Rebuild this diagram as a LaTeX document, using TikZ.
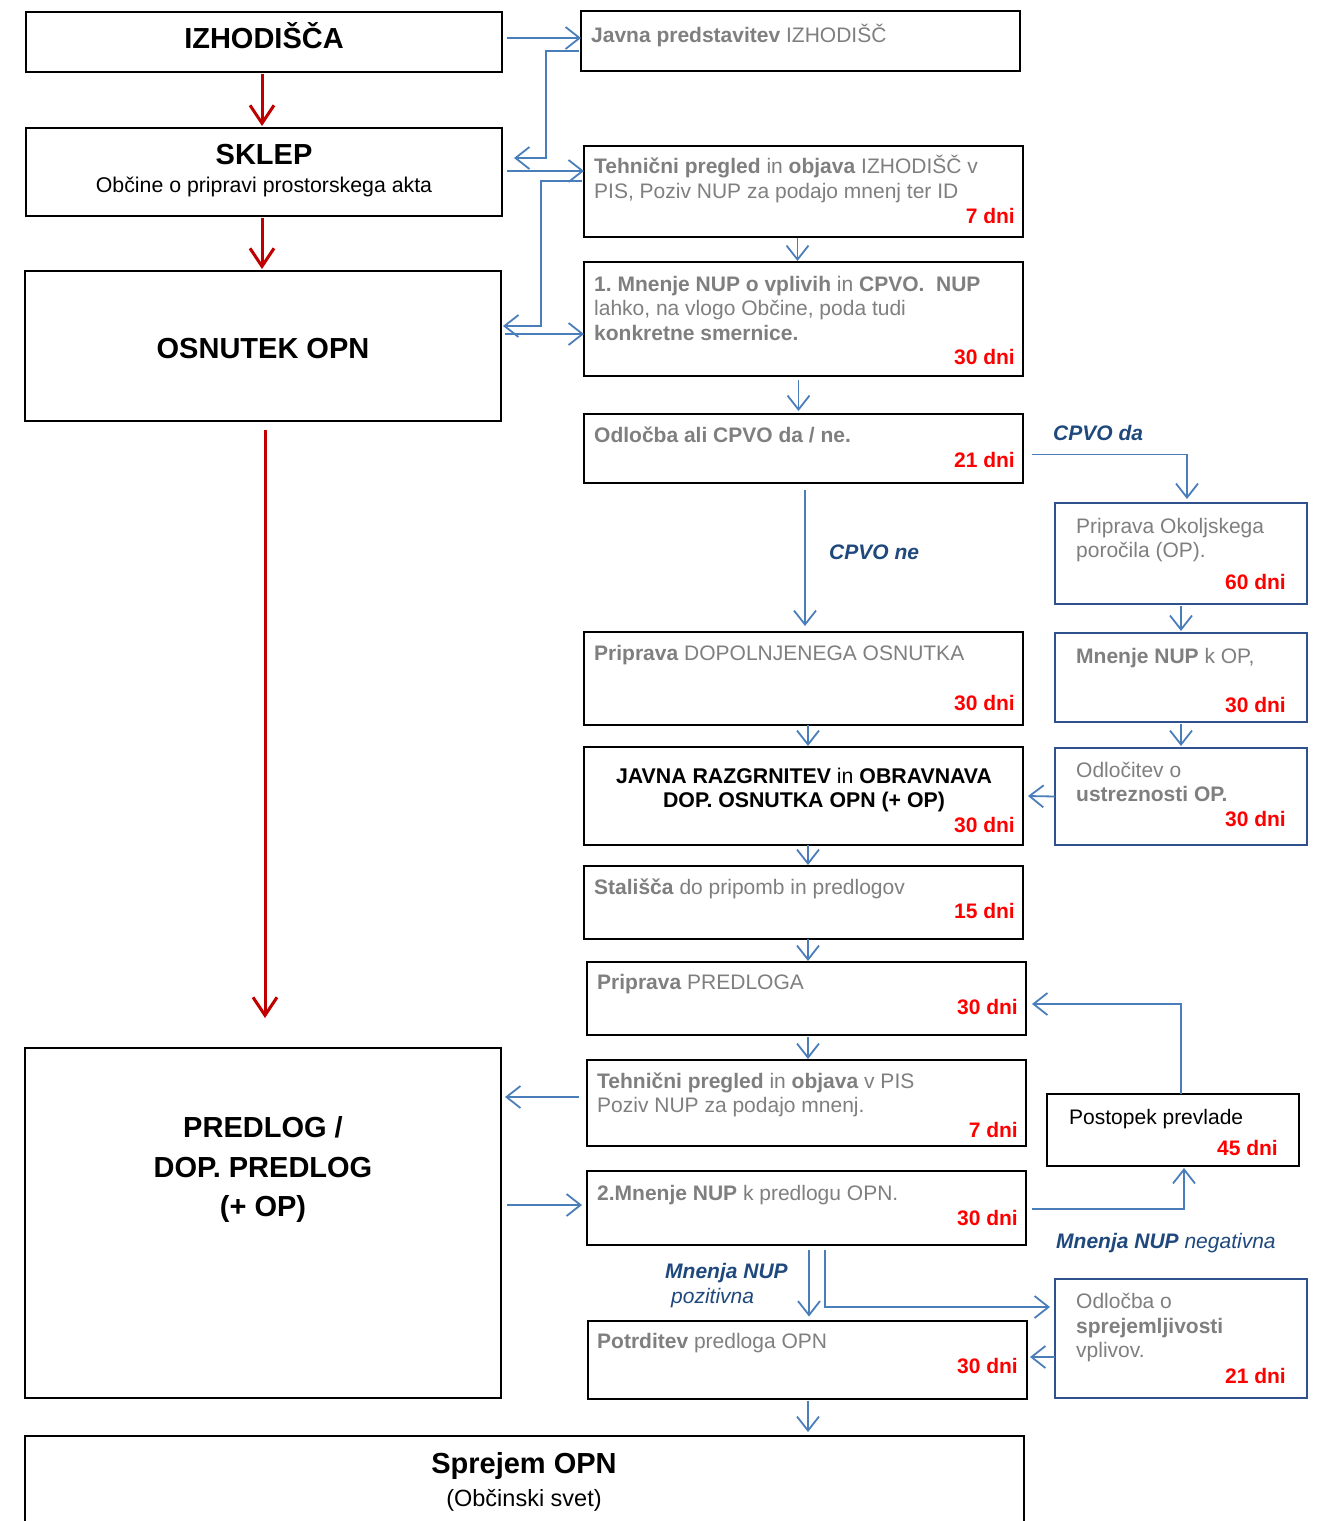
\documentclass[tikz,border=0pt]{standalone}
\usepackage{fontspec}
\setmainfont{Liberation Sans}
\frenchspacing
\usetikzlibrary{arrows.meta,calc}
\definecolor{gtxt}{RGB}{127,127,127}
\definecolor{arrblue}{RGB}{74,126,187}
\definecolor{boxblue}{RGB}{47,82,143}
\definecolor{lblblue}{RGB}{31,73,125}
\definecolor{arrred}{RGB}{192,0,0}
\definecolor{dnred}{RGB}{255,0,0}
\begin{document}
\begin{tikzpicture}[x=1pt,y=-1pt,
  box/.style={draw=black, line width=2pt, rectangle, inner sep=0pt, outer sep=0pt},
  bbox/.style={box, draw=boxblue},
  barrow/.style={draw=arrblue, line width=1.8pt, -{Straight Barb[length=14pt,width=22pt]}},
  rarrow/.style={draw=arrred, line width=3pt, -{Straight Barb[length=18pt,width=24pt]}},
  tx/.style={anchor=base west, inner sep=0pt, font=\fontsize{21}{25}\selectfont, text=gtxt},
  btx/.style={anchor=base west, inner sep=0pt, font=\fontsize{21}{25}\selectfont, text=black},
  dn/.style={anchor=base east, inner sep=0pt, font=\fontsize{21}{25}\selectfont\bfseries, text=dnred},
  ttl/.style={anchor=base, inner sep=0pt, font=\fontsize{29}{34}\selectfont\bfseries, text=black},
  sub/.style={anchor=base, inner sep=0pt, font=\fontsize{21}{25}\selectfont, text=black},
  lbl/.style={anchor=base west, inner sep=0pt, font=\fontsize{21}{25}\selectfont\bfseries\itshape, text=lblblue},
  lbln/.style={anchor=base west, inner sep=0pt, font=\fontsize{21}{25}\selectfont\itshape, text=lblblue}
]
\useasboundingbox (0,0) rectangle (1319,1521);
\fill[white] (0,0) rectangle (1319,1521);

% ---------- left column ----------
\node[box, minimum width=476pt, minimum height=60pt] (izh) at (264,42) {};
\node[box, minimum width=476pt, minimum height=88pt] (sklep) at (264,172) {};
\node[box, minimum width=476pt, minimum height=150pt] (osn) at (263,346) {};
\node[box, minimum width=476pt, minimum height=350pt] (pred) at (263,1223) {};
\node[box, minimum width=999pt, minimum height=92pt] (sprej) at (524.5,1482) {};

\node[ttl] (t-izh) at (264,48) {IZHODIŠČA};
\node[ttl] (t-sklep) at (264,164) {SKLEP};
\node[sub, font=\fontsize{21.3}{25}\selectfont] (t-sklep2) at (264,192) {Občine o pripravi prostorskega akta};
\node[ttl] (t-osn) at (263,358) {OSNUTEK OPN};
\node[ttl] (t-pred1) at (263,1137) {PREDLOG /};
\node[ttl] (t-pred2) at (263,1177) {DOP. PREDLOG};
\node[ttl] (t-pred3) at (263,1216) {(+ OP)};
\node[ttl] (t-sprej) at (524,1473) {Sprejem OPN};
\node[sub, font=\fontsize{23.5}{28}\selectfont] (t-sprej2) at (524,1506) {(Občinski svet)};

% ---------- middle column ----------
\node[box, minimum width=439pt, minimum height=60pt] (javna) at (800.5,41) {};
\node[box, minimum width=439pt, minimum height=91pt] (tech1) at (803.5,191.5) {};
\node[box, minimum width=439pt, minimum height=114pt] (mn1) at (803.5,319) {};
\node[box, minimum width=439pt, minimum height=69pt] (odl) at (803.5,448.5) {};
\node[box, minimum width=439pt, minimum height=93pt] (dop) at (803.5,678.5) {};
\node[box, minimum width=439pt, minimum height=98pt] (jr) at (803.5,796) {};
\node[box, minimum width=439pt, minimum height=73pt] (stal) at (803.5,902.5) {};
\node[box, minimum width=439pt, minimum height=73pt] (ppred) at (806.5,998.5) {};
\node[box, minimum width=439pt, minimum height=86pt] (tech2) at (806.5,1103) {};
\node[box, minimum width=439pt, minimum height=74pt] (mn2) at (806.5,1208) {};
\node[box, minimum width=439pt, minimum height=78pt] (potr) at (807,1359.5) {};

\node[tx] (t-javna) at (591,42) {\textbf{Javna predstavitev} IZHODIŠČ};
\node[tx] (t-tech1a) at (594,173) {\textbf{Tehnični pregled} in \textbf{objava} IZHODIŠČ v};
\node[tx] (t-tech1b) at (594,198) {PIS, Poziv NUP za podajo mnenj ter ID};
\node[dn] (d-tech1) at (1015,223) {7 dni};
\node[tx] (t-mn1a) at (594,291) {\textbf{1. Mnenje NUP o vplivih} in \textbf{CPVO.}\ \ \textbf{NUP}};
\node[tx] (t-mn1b) at (594,315) {lahko, na vlogo Občine, poda tudi};
\node[tx] (t-mn1c) at (594,340) {\textbf{konkretne smernice.}};
\node[dn] (d-mn1) at (1015,364) {30 dni};
\node[tx] (t-odl) at (594,442) {\textbf{Odločba ali CPVO da / ne.}};
\node[dn] (d-odl) at (1015,467) {21 dni};
\node[tx] (t-dop) at (594,660) {\textbf{Priprava} DOPOLNJENEGA OSNUTKA};
\node[dn] (d-dop) at (1015,710) {30 dni};
\node[ttl, font=\fontsize{21.3}{25}\selectfont] (t-jr1) at (804,783) {\textbf{JAVNA RAZGRNITEV} in \textbf{OBRAVNAVA}};
\node[ttl, font=\fontsize{21.3}{25}\selectfont\bfseries] (t-jr2) at (804,807) {DOP. OSNUTKA OPN (+ OP)};
\node[dn] (d-jr) at (1015,832) {30 dni};
\node[tx] (t-stal) at (594,894) {\textbf{Stališča} do pripomb in predlogov};
\node[dn] (d-stal) at (1015,918) {15 dni};
\node[tx] (t-ppred) at (597,989) {\textbf{Priprava} PREDLOGA};
\node[dn] (d-ppred) at (1018,1014) {30 dni};
\node[tx] (t-tech2a) at (597,1088) {\textbf{Tehnični pregled} in \textbf{objava} v PIS};
\node[tx] (t-tech2b) at (597,1112) {Poziv NUP za podajo mnenj.};
\node[dn] (d-tech2) at (1018,1137) {7 dni};
\node[tx] (t-mn2) at (597,1200) {\textbf{2.Mnenje NUP} k predlogu OPN.};
\node[dn] (d-mn2) at (1018,1225) {30 dni};
\node[tx] (t-potr) at (597,1348) {\textbf{Potrditev} predloga OPN};
\node[dn] (d-potr) at (1018,1373) {30 dni};

% ---------- right column ----------
\node[bbox, minimum width=252pt, minimum height=101pt] (okol) at (1181,553.5) {};
\node[bbox, minimum width=252pt, minimum height=89pt] (mnop) at (1181,677.5) {};
\node[bbox, minimum width=252pt, minimum height=97pt] (odlop) at (1181,796.5) {};
\node[box, minimum width=252pt, minimum height=72pt] (prev) at (1173,1130) {};
\node[bbox, minimum width=252pt, minimum height=119pt] (sprem) at (1181,1338.5) {};

\node[tx] (t-okol1) at (1076,533) {Priprava Okoljskega};
\node[tx] (t-okol2) at (1076,557) {poročila (OP).};
\node[dn] (d-okol) at (1286,589) {60 dni};
\node[tx] (t-mnop) at (1076,663) {\textbf{Mnenje NUP} k OP,};
\node[dn] (d-mnop) at (1286,712) {30 dni};
\node[tx] (t-odlop1) at (1076,777) {Odločitev o};
\node[tx] (t-odlop2) at (1076,801) {\textbf{ustreznosti OP.}};
\node[dn] (d-odlop) at (1286,826) {30 dni};
\node[btx] (t-prev) at (1069,1124) {Postopek prevlade};
\node[dn] (d-prev) at (1278,1155) {45 dni};
\node[tx] (t-sprem1) at (1076,1308) {Odločba o};
\node[tx] (t-sprem2) at (1076,1333) {\textbf{sprejemljivosti}};
\node[tx] (t-sprem3) at (1076,1357) {vplivov.};
\node[dn] (d-sprem) at (1286,1383) {21 dni};

% ---------- labels ----------
\node[lbl] (l-da) at (1053,440) {CPVO da};
\node[lbl] (l-ne) at (829,559) {CPVO ne};
\node[lbln] (l-neg) at (1056,1248) {\textbf{Mnenja NUP} negativna};
\node[lbl] (l-poz1) at (665,1278) {Mnenja NUP};
\node[lbln] (l-poz2) at (671,1303) {pozitivna};

% ---------- red arrows ----------
\draw[rarrow] ($(izh.south)+(-2,2)$) -- ($(sklep.north)+(-2,-2)$);
\draw[rarrow] ($(sklep.south)+(-2,2)$) -- ($(osn.north)+(-1,-2)$);
\draw[rarrow] ($(osn.south)+(2,9)$) -- ($(pred.north)+(2,-30)$);

% ---------- blue arrows ----------
\draw[barrow] ($(izh.east)+(5,-4)$) -- ($(javna.west)+(0,-3)$);
\draw[barrow] ($(javna.west)+(-2,10)$) -- ++(-33,0) |- ($(sklep.east)+(12,-14)$);
\draw[barrow] ($(sklep.east)+(5,-1)$) -- ($(tech1.west)+(0,-20.5)$);
\draw[barrow] ($(tech1.west)+(-2,-10.5)$) -- ++(-41,0) |- ($(osn.east)+(2,-20)$);
\draw[barrow] ($(osn.east)+(4,-12)$) -- ($(mn1.west)+(0,15)$);
\draw[barrow] ($(tech1.south)+(-6,1)$) -- ($(mn1.north)+(-6,-1)$);
\draw[barrow] ($(mn1.south)+(-5,4)$) -- ($(odl.north)+(-5,-3)$);
\draw[barrow] ($(odl.south)+(1.5,7)$) -- ($(dop.north)+(1.5,-6)$);
\draw[barrow] ($(odl.east)+(9,6)$) -| ($(okol.north)+(6,-4)$);
\draw[barrow] ($(okol.south)+(0,2)$) -- ($(mnop.north)+(0,-2)$);
\draw[barrow] ($(mnop.south)+(0,2)$) -- ($(odlop.north)+(0,-2)$);
\draw[barrow] (odlop.west) -- ($(jr.east)+(5,0)$);
\draw[barrow] ($(dop.south)+(4.5,0)$) -- ($(jr.north)+(4.5,-1)$);
\draw[barrow] ($(jr.south)+(4.5,0)$) -- ($(stal.north)+(4.5,-1)$);
\draw[barrow] ($(stal.south)+(4.5,0)$) -- ($(ppred.north)+(1.5,-1)$);
\draw[barrow] ($(ppred.south)+(1.5,2)$) -- ($(tech2.north)+(1.5,-1)$);
\draw[barrow] ($(prev.north)+(8,0)$) |- ($(ppred.east)+(6,5.5)$);
\draw[barrow] ($(tech2.west)+(-8,-6)$) -- ($(pred.east)+(4,-126)$);
\draw[barrow] ($(pred.east)+(6,-18)$) -- ($(mn2.west)+(-5,-3)$);
\draw[barrow] ($(mn2.east)+(6,1)$) -| ($(prev.south)+(11,2)$);
\draw[barrow] ($(mn2.south)+(2.5,5)$) -- ($(potr.north)+(2,-4)$);
\draw[barrow] ($(mn2.south)+(18.5,5)$) |- ($(sprem.west)+(-5,-31.5)$);
\draw[barrow] ($(sprem.west)+(0,18.5)$) -- ($(potr.east)+(3.5,-2.5)$);
\draw[barrow] ($(potr.south)+(1,2)$) -- ($(potr.south |- sprej.north)+(1,-4)$);
\end{tikzpicture}
\end{document}
